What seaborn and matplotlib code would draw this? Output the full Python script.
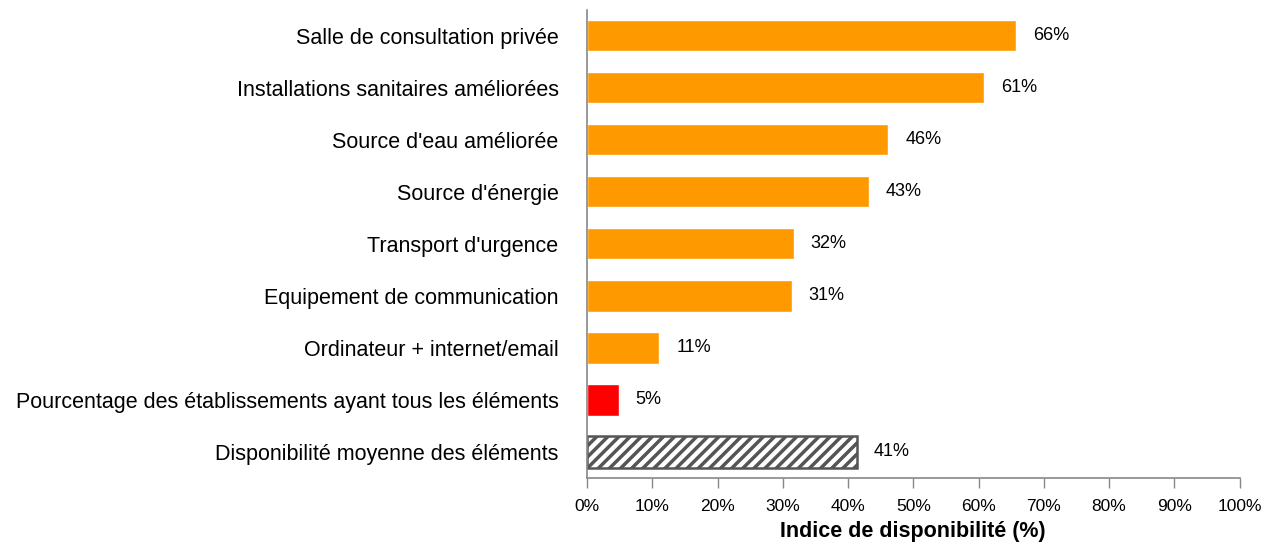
import numpy as np
import pandas as pd
import matplotlib
matplotlib.use('Agg')
import matplotlib.pyplot as plt
import seaborn as sns
from matplotlib.ticker import PercentFormatter

# ── data ───────────────────────────────────────────────
categories = [
    "Salle de consultation privée",
    "Installations sanitaires améliorées",
    "Source d'eau améliorée",
    "Source d'énergie",
    "Transport d'urgence",
    "Equipement de communication",
    "Ordinateur + internet/email",
    "Pourcentage des établissements ayant tous les éléments",
    "Disponibilité moyenne des éléments",
]
values = [65.8, 60.9, 46.2, 43.2, 31.7, 31.4, 11.1, 4.9, 41.4]
bar_colors = ["#FF9900"] * 7 + ["#FF0000", "#FFFFFF"]

df = pd.DataFrame({"element": categories, "pct": values})

# ── style ──────────────────────────────────────────────
sns.set_style("white")
plt.rcParams['font.family'] = ['Liberation Sans', 'DejaVu Sans']
plt.rcParams['text.color'] = 'black'
plt.rcParams['xtick.color'] = 'black'
plt.rcParams['ytick.color'] = 'black'
plt.rcParams['axes.labelcolor'] = 'black'
plt.rcParams['hatch.linewidth'] = 2.5
plt.rcParams['hatch.color'] = '#555555'

fig = plt.figure(figsize=(12.72, 5.45), dpi=100)
ax = fig.add_axes([0.4615, 0.123, 0.513, 0.859])

sns.barplot(data=df, x="pct", y="element", hue="element", palette=bar_colors,
            legend=False, orient="h", width=0.6, ax=ax, saturation=1)

# hatched average bar
avg = ax.patches[-1]
avg.set_hatch("///")
avg.set_edgecolor("#555555")
avg.set_linewidth(1.8)

for p, v in zip(ax.patches, values):
    ax.annotate(f"{v:.0f}%", (p.get_width(), p.get_y() + p.get_height() / 2),
                xytext=(12, 0), textcoords="offset points",
                va="center", ha="left", fontsize=13)

ax.set_xlim(0, 100)
ax.set_ylim(8.5, -0.5)
ax.xaxis.set_major_locator(plt.MultipleLocator(10))
ax.xaxis.set_major_formatter(PercentFormatter(decimals=0))
ax.set_xlabel("Indice de disponibilité (%)", fontsize=15.5, fontweight="bold", labelpad=5)
ax.set_ylabel("")
ax.tick_params(axis="x", bottom=True, direction="out", length=7, width=1,
               color="#888888", labelsize=12.5, pad=8)
ax.tick_params(axis="y", left=False, labelsize=15.5, pad=17)

for s in ["top", "right"]:
    ax.spines[s].set_visible(False)
for s in ["left", "bottom"]:
    ax.spines[s].set_color("#888888")
    ax.spines[s].set_linewidth(1.2)

fig.savefig("out.png", dpi=100)
